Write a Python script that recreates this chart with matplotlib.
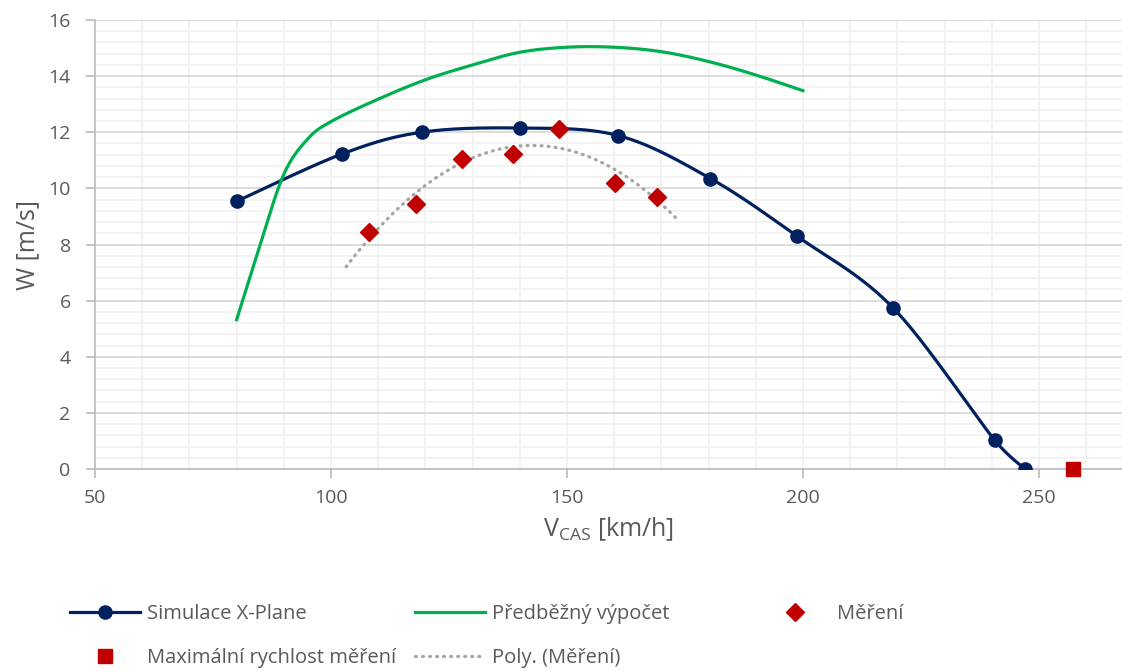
import matplotlib
matplotlib.use("Agg")
import matplotlib.pyplot as plt
from matplotlib.lines import Line2D
import numpy as np

plt.rcParams['font.family'] = ['Open Sans', 'DejaVu Sans']

# === data ===
sim_v = [80.0, 102.4, 119.2, 140.0, 160.9, 180.4, 198.7, 219.1, 240.6, 247.0]
sim_w = [9.54, 11.23, 12.00, 12.15, 11.88, 10.35, 8.30, 5.74, 1.03, 0.00]

calc_v = [80, 85, 90, 95, 100, 110, 120, 130, 140, 150, 160, 170, 180, 190, 200]
calc_w = [5.32, 8.0, 10.5, 11.75, 12.38, 13.18, 13.87, 14.40, 14.85, 15.03,
          15.03, 14.87, 14.52, 14.04, 13.48]

meas_v = [108.1, 118.0, 127.7, 138.6, 148.4, 160.2, 169.0]
meas_w = [8.43, 9.46, 11.03, 11.21, 12.12, 10.20, 9.70]

vmax_v = [257.3]
vmax_w = [0.0]

trend_range = (103.2, 173.0)

# === colours ===
C_SIM = "#002060"
C_CALC = "#00B050"
C_MEAS = "#C00000"
C_POLY = "#A5A5A5"
C_TEXT = "#595959"

# px per data unit (used only to keep smoothing handles in screen proportions)
SX, SY = 4.72, 28.06


def smooth(xs, ys, n=30):
    # Excel-style smoothed line: Bezier through the points, handles clamped
    p = np.column_stack([xs, ys]).astype(float) * [SX, SY]
    p_ext = np.vstack([p[0], p, p[-1]])
    t = np.linspace(0, 1, n)[:, None]
    out = []
    for i in range(1, len(p_ext) - 2):
        p0, p1, p2, p3 = p_ext[i - 1], p_ext[i], p_ext[i + 1], p_ext[i + 2]
        seg = np.hypot(*(p2 - p1))
        d1 = (p2 - p0) / 6
        d2 = (p3 - p1) / 6
        for d in (d1, d2):
            L = np.hypot(*d)
            if L > 0.5 * seg:
                d *= 0.5 * seg / L
        b1 = p1 + d1
        b2 = p2 - d2
        c = ((1 - t) ** 3) * p1 + 3 * ((1 - t) ** 2) * t * b1 + 3 * (1 - t) * t ** 2 * b2 + t ** 3 * p2
        out.append(c if i == 1 else c[1:])
    out = np.vstack(out) / [SX, SY]
    return out[:, 0], out[:, 1]


fig = plt.figure(figsize=(11.22, 6.71), dpi=100)
ax = fig.add_axes([95 / 1122, 1 - 469 / 671, 1 - 95 / 1122, (469 - 20) / 671])

# grid
ax.set_xlim(50, 50 + (1122 - 95) / SX)
ax.set_ylim(0, 16)
ax.set_xticks(np.arange(50, 251, 50))
ax.set_xticks(np.arange(50, 270, 10), minor=True)
ax.set_yticks(np.arange(0, 17, 2))
ax.set_yticks(np.arange(0, 16.01, 0.4), minor=True)
ax.grid(True, which='minor', axis='both', color='#F2F2F2', lw=1.3, zorder=0)
ax.grid(True, which='major', axis='x', color='#F2F2F2', lw=1.3, zorder=0)
ax.grid(True, which='major', axis='y', color='#D9D9D9', lw=1.3, zorder=0)
ax.set_axisbelow(True)

for s in ['top', 'right']:
    ax.spines[s].set_visible(False)
for s in ['left', 'bottom']:
    ax.spines[s].set_color('#BFBFBF')
    ax.spines[s].set_linewidth(1.3)

ax.tick_params(which='major', length=6.5, width=1.3, color='#BFBFBF', labelsize=14, labelcolor=C_TEXT)
ax.tick_params(axis='y', pad=11)
ax.tick_params(axis='x', pad=8)
ax.tick_params(which='minor', length=0)

# series
sx, sy = smooth(sim_v, sim_w)
ax.plot(sx, sy, color=C_SIM, lw=2.3, zorder=3)
ax.plot(sim_v, sim_w, 'o', color=C_SIM, ms=9.5, zorder=4)

cx, cy = smooth(calc_v, calc_w)
ax.plot(cx, cy, color=C_CALC, lw=2.3, zorder=3)

coef = np.polyfit(meas_v, meas_w, 2)
tx = np.linspace(trend_range[0], trend_range[1], 200)
ax.plot(tx, np.polyval(coef, tx), color=C_POLY, lw=2.3, ls=(0, (0.3, 1.9)),
        dash_capstyle='round', zorder=3)
ax.plot(meas_v, meas_w, 'D', color=C_MEAS, ms=9, zorder=5)
ax.plot(vmax_v, vmax_w, 's', color=C_MEAS, ms=10, zorder=5, clip_on=False)

ax.set_xlabel(r'V$_\mathregular{CAS}$ [km/h]', fontsize=18, color=C_TEXT, labelpad=6)
ax.set_ylabel('W [m/s]', fontsize=18, color=C_TEXT, labelpad=6)

# legend (three columns, Excel-like equal widths)
h_sim = Line2D([], [], color=C_SIM, lw=2.3, marker='o', ms=9.5)
h_calc = Line2D([], [], color=C_CALC, lw=2.3)
h_meas = Line2D([], [], color=C_MEAS, ls='none', marker='D', ms=9)
h_max = Line2D([], [], color=C_MEAS, ls='none', marker='s', ms=10)
h_poly = Line2D([], [], color=C_POLY, lw=2.3, ls=(0, (0.3, 1.9)), dash_capstyle='round')

leg_kw = dict(loc='upper left', frameon=False, fontsize=14.5, labelcolor=C_TEXT,
              handlelength=3.5, handletextpad=0.3, labelspacing=1.2, borderpad=0,
              borderaxespad=0, numpoints=1)
top = 1 - 604 / 671
fig.legend([h_sim, h_max], ['Simulace X-Plane', 'Maximální rychlost měření'],
           bbox_to_anchor=(70 / 1122, top), **leg_kw)
fig.legend([h_calc, h_poly], ['Předběžný výpočet', 'Poly. (Měření)'],
           bbox_to_anchor=(415 / 1122, top), **leg_kw)
fig.legend([h_meas], ['Měření'],
           bbox_to_anchor=(760 / 1122, top), **leg_kw)

fig.savefig('out.png', dpi=100)
